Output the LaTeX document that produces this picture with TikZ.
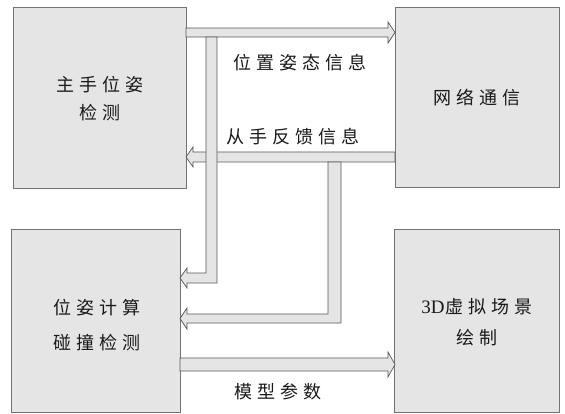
\documentclass[tikz,border=0pt]{standalone}
\usepackage{fontspec}
\setmainfont{Liberation Serif}
\newfontfamily\cjk{Noto Sans CJK SC}
\newcommand\gp{\hspace{5pt}}
\tikzset{
  blk/.style={draw=black!55, fill=black!10, line width=0.8pt},
  barrow/.style={draw=black!65, fill=black!10, line width=0.7pt, line join=miter},
  txt/.style={font=\cjk\fontsize{18}{18}\selectfont, inner sep=0pt, text=black!90},
}
\begin{document}
\begin{tikzpicture}[x=1pt,y=-1pt]
\useasboundingbox[fill=white] (0,0) rectangle (565,414);
% boxes
\draw[blk] (13,7) rectangle (186,188);
\node[inner sep=0pt] (m) at (99.5,97.5) {};
\draw[blk] (395,7) rectangle (559,187);
\node[inner sep=0pt] (n) at (477,97) {};
\draw[blk] (11,229) rectangle (180,412);
\node[inner sep=0pt] (c) at (95.5,320.5) {};
\draw[blk] (394,229) rectangle (559,412);
\node[inner sep=0pt] (r) at (476.5,320.5) {};
% box texts
\node[txt] (m1) at (100,85) {主\gp 手\gp 位\gp 姿};
\node[txt] (m2) at (100,113) {检\gp 测};
\node[txt] (n1) at (477,98) {网\gp 络\gp 通\gp 信};
\node[txt] (c1) at (97,308) {位\gp 姿\gp 计\gp 算};
\node[txt] (c2) at (97,343) {碰\gp 撞\gp 检\gp 测};
\node[txt] (r1) at (477,307) {{\fontsize{19}{19}\selectfont\rmfamily 3D}\hspace{1pt}虚\gp 拟\gp 场\gp 景};
\node[txt] (r2) at (477,338) {绘\gp 制};
% block arrows
% top: pose info to network
\draw[barrow] (186,28) -- (388,28) -- (388,22) -- (395,32.5) -- (388,43) -- (388,37) -- (186,37) -- cycle;
% feedback: network to master
\draw[barrow] (395,152) -- (193,152) -- (193,147) -- (186,157) -- (193,167) -- (193,162) -- (395,162) -- cycle;
% vertical 2: feedback to computation
\draw[barrow] (328,162) -- (341,162) -- (341,323) -- (187,323) -- (187,329) -- (180,318.5) -- (187,308) -- (187,314) -- (328,314) -- cycle;
% vertical 1: pose info to computation
\draw[barrow] (206,37) -- (217,37) -- (217,283) -- (187,283) -- (187,288) -- (180,278) -- (187,268) -- (187,273) -- (206,273) -- cycle;
% bottom: model parameters to scene
\draw[barrow] (180,358) -- (388,358) -- (388,352) -- (395,364.5) -- (388,377) -- (388,371) -- (180,371) -- cycle;
% labels
\node[txt] (l1) at (300,63) {位\gp 置\gp 姿\gp 态\gp 信\gp 息};
\node[txt] (l2) at (293,137) {从\gp 手\gp 反\gp 馈\gp 信\gp 息};
\node[txt] (l3) at (278,392) {模\gp 型\gp 参\gp 数};
\end{tikzpicture}
\end{document}
